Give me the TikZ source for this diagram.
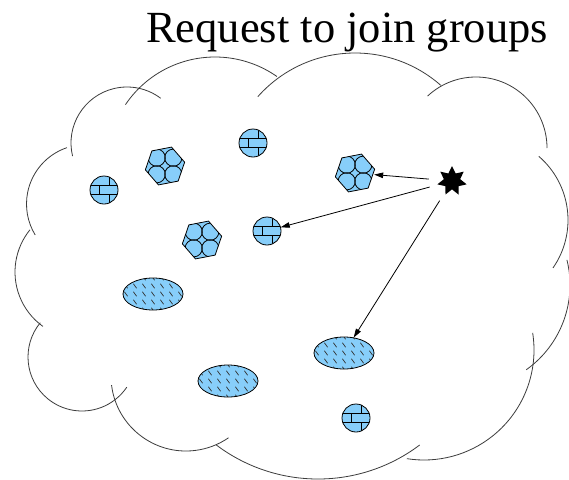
\documentclass[tikz,border=0pt]{standalone}
\usepackage{fontspec}
\setmainfont{Liberation Serif}
\usetikzlibrary{shapes.geometric,arrows.meta}
\definecolor{groupblue}{RGB}{135,206,250}
\definecolor{cloudline}{RGB}{60,60,60}
\tikzset{
  cloud/.style={draw=cloudline, line width=0.8},
  shapeline/.style={draw=black, line width=0.8},
  request/.style={draw=black, line width=0.8, -{Triangle[length=9,width=5.5]}},
  anchorring/.style={circle, inner sep=0pt, draw=none},
  pics/brickball/.style={code={
    \fill[groupblue] (0,0) circle[radius=14];
    \begin{scope}
      \clip (0,0) circle[radius=14];
      \draw[line width=0.8] (-15,-4.7) -- (15,-4.7) (-15,4.7) -- (15,4.7);
      \draw[line width=0.8] (5,-15) -- (5,-4.7) (-5,-4.7) -- (-5,4.7) (5,4.7) -- (5,15);
    \end{scope}
    \draw[shapeline] (0,0) circle[radius=14];
  }},
  pics/cellgroup/.style={code={
    \fill[groupblue] (349:20) -- (49:20) -- (109:20) -- (169:20) -- (229:20) -- (289:20) -- cycle;
    \begin{scope}
      \clip (349:20) -- (49:20) -- (109:20) -- (169:20) -- (229:20) -- (289:20) -- cycle;
      \foreach \p in {(-8.3,-8.3),(8.3,-8.3),(-8.3,8.3),(8.3,8.3)}
        \draw[line width=0.8] \p circle[radius=8.6];
    \end{scope}
    \draw[shapeline, line join=round] (349:20) -- (49:20) -- (109:20) -- (169:20) -- (229:20) -- (289:20) -- cycle;
  }},
  pics/hatchdisc/.style={code={
    \fill[groupblue] (0,0) ellipse[x radius=30, y radius=16];
    \begin{scope}
      \clip (0,0) ellipse[x radius=30, y radius=16];
      \foreach \i in {-3,...,3}
        \foreach \j in {-2,...,2}
          \draw[line width=0.7, black!80] (\i*9-1.6,\j*8-2.2) -- (\i*9+1.6,\j*8+2.2);
    \end{scope}
    \draw[shapeline] (0,0) ellipse[x radius=30, y radius=16];
  }}
}
\newcommand\lobe[5]{\draw[cloud] ([shift={(#3:#4)}]#1,#2) arc[start angle=#3, end angle=#5, radius=#4];}
\begin{document}
\begin{tikzpicture}[x=1pt, y=-1pt]
\useasboundingbox (0,0) rectangle (569,479);
\fill[white] (0,0) rectangle (569,479);

% title
\node[anchor=base west, inner sep=0pt, font=\fontsize{44.5}{50}\selectfont] (title) at (146,42) {Request to join groups};

% cloud outline, one arc per lobe
\lobe{127}{143}{166.5}{56}{307}
\lobe{215}{165}{214}{108}{305}
\lobe{355}{183}{221.6}{130}{311.3}
\lobe{476}{148}{227}{71}{360}
\lobe{484}{220}{310.7}{84}{394.8}
\lobe{466}{285}{346}{104}{414.6}
\lobe{424}{350}{351}{110}{459}
\lobe{318}{310}{53}{169}{127}
\lobe{186}{376}{173}{75}{55.5}
\lobe{82}{357}{219.4}{54}{34}
\lobe{86}{204}{251.3}{59.5}{148.7}
\lobe{82}{272}{219}{67}{125.7}

% group members
\pic at (104,190) {brickball};
\pic at (253,143) {brickball};
\pic at (267,231) {brickball};
\pic at (356,418) {brickball};
\pic at (165,166) {cellgroup};
\pic at (355,173) {cellgroup};
\pic at (202,240) {cellgroup};
\pic at (153,294) {hatchdisc};
\pic at (344,353) {hatchdisc};
\pic at (228,381) {hatchdisc};

% outlines used as arrow targets
\node[anchorring, minimum size=38] (g2) at (355,173) {};
\node[anchorring, minimum size=28] (b3) at (267,231) {};
\node[ellipse, inner sep=0pt, minimum width=60, minimum height=32] (e2) at (344,353) {};

% requesting host
\node[star, star points=7, star point ratio=1.8, fill=black, inner sep=0pt, minimum size=30] (host) at (452,181) {};
\node[anchorring, minimum size=46] (src) at (452,181) {};

\draw[request] (src) -- (g2);
\draw[request] (src) -- (b3);
\draw[request] (src) -- (e2);
\end{tikzpicture}
\end{document}
